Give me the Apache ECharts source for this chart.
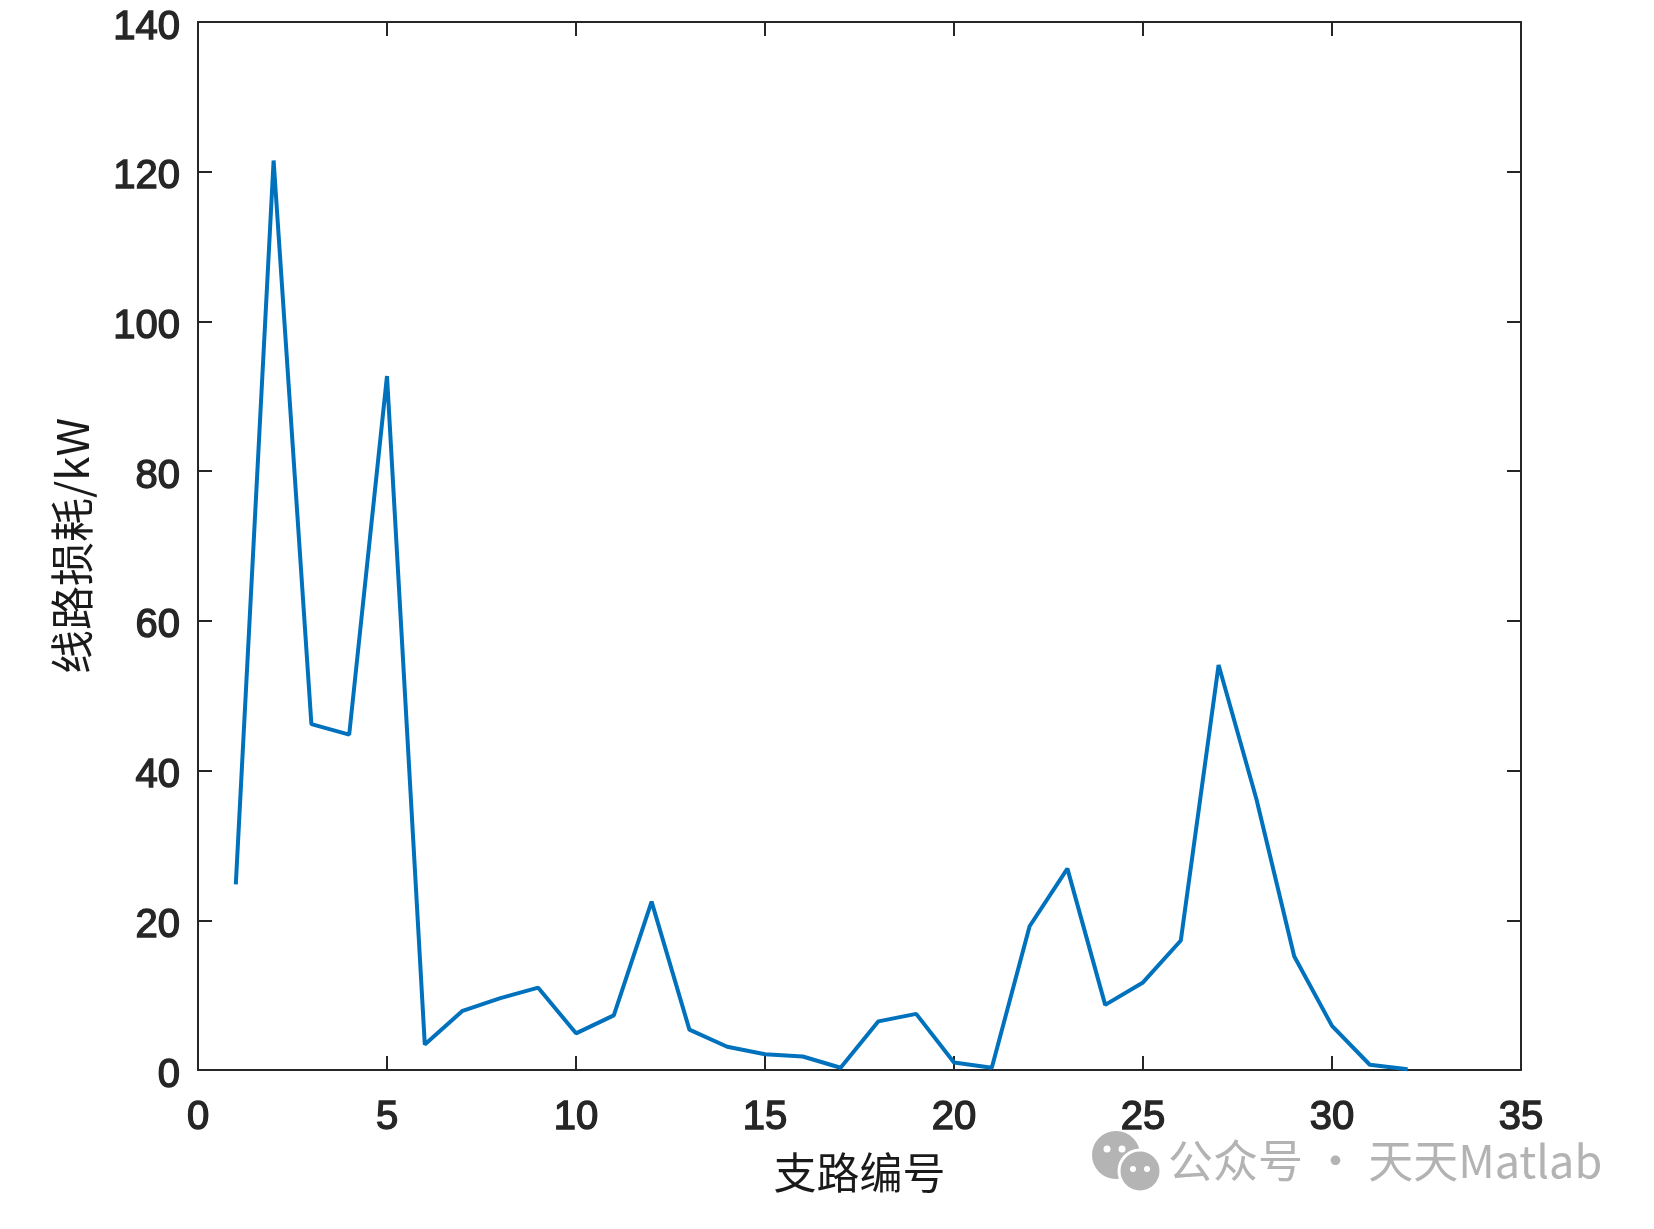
<!DOCTYPE html>
<html>
<head>
<meta charset="utf-8">
<title>线路损耗</title>
<script src="https://cdn.jsdelivr.net/npm/echarts@6/dist/echarts.min.js"></script>
<style>
  html, body { margin: 0; padding: 0; background: #fff; }
  #main { width: 1654px; height: 1229px; }
</style>
</head>
<body>
<div id="main"></div>
<script>
// 支路编号 与 各支路线路损耗(kW)
const branchNo = [1, 2, 3, 4, 5, 6, 7, 8, 9, 10, 11, 12, 13, 14, 15, 16,
  17, 18, 19, 20, 21, 22, 23, 24, 25, 26, 27, 28, 29, 30, 31, 32];
const lossKW = [24.8, 121.5, 46.2, 44.8, 92.7, 3.4, 7.9, 9.6, 11.0, 4.9, 7.3, 22.5,
  5.4, 3.1, 2.1, 1.8, 0.3, 6.5, 7.5, 1.0, 0.3, 19.2, 26.9, 8.7, 11.7, 17.3,
  54.1, 36.2, 15.2, 5.9, 0.7, 0.1];
const xTicks = [0, 35, 5];     // min, max, interval
const yTicks = [0, 140, 20];

const axisColor = "#262626";
const labelFont = "Liberation Sans";
const cjkFont = "Noto Sans CJK SC";

let chart = echarts.init(document.getElementById("main"));

// 刻度数字：常规字重加细描边，接近 MATLAB 的中等粗细
const tickText = {
  fontFamily: labelFont, fontSize: 40, color: axisColor,
  textBorderColor: axisColor, textBorderWidth: 1.4
};

// 坐标轴公共样式（刻度朝内，四边框）
function boxAxis(extra) {
  return Object.assign({
    type: "value",
    splitLine: { show: false },
    axisLine: { show: true, onZero: false, lineStyle: { color: axisColor, width: 2 } },
    axisTick: { show: true, inside: true, length: 14, lineStyle: { color: axisColor, width: 2 } }
  }, extra);
}

chart.setOption({
  backgroundColor: "#fff",
  animation: false,
  grid: { left: 198, right: 133, top: 22, bottom: 159 },
  xAxis: [
    boxAxis({
      min: xTicks[0], max: xTicks[1], interval: xTicks[2],
      name: "支路编号",
      nameLocation: "middle",
      nameGap: 81,
      nameTextStyle: { fontFamily: cjkFont, fontSize: 43, color: "#1a1a1a" },
      axisLabel: Object.assign({ margin: 28 }, tickText)
    }),
    boxAxis({
      position: "top",
      min: xTicks[0], max: xTicks[1], interval: xTicks[2],
      axisLabel: { show: false }
    })
  ],
  yAxis: [
    boxAxis({
      min: yTicks[0], max: yTicks[1], interval: yTicks[2],
      name: "线路损耗/kW",
      nameLocation: "middle",
      nameRotate: 90,
      nameGap: 104,
      nameTextStyle: { fontFamily: cjkFont, fontSize: 44, color: "#1a1a1a" },
      axisLabel: {
        margin: 18,
        formatter: "{v|{value}}",
        rich: { v: Object.assign({ padding: [11, 0, 0, 0] }, tickText) }
      }
    }),
    boxAxis({
      position: "right",
      min: yTicks[0], max: yTicks[1], interval: yTicks[2],
      axisLabel: { show: false }
    })
  ],
  series: [
    {
      type: "line",
      data: branchNo.map((b, i) => [b, lossKW[i]]),
      showSymbol: false,
      lineStyle: { color: "#0072BD", width: 4 },
      z: 1
    }
  ],
  // 公众号水印
  graphic: [
    { type: "circle", shape: { cx: 1116, cy: 1155, r: 24 }, style: { fill: "#b4b4b4" } },
    { type: "circle", shape: { cx: 1140, cy: 1171, r: 21 }, style: { fill: "#b4b4b4", stroke: "#fff", lineWidth: 3 } },
    { type: "circle", shape: { cx: 1107, cy: 1149, r: 3.5 }, style: { fill: "#fff" } },
    { type: "circle", shape: { cx: 1122, cy: 1149, r: 3.5 }, style: { fill: "#fff" } },
    { type: "circle", shape: { cx: 1133, cy: 1169, r: 3 }, style: { fill: "#fff" } },
    { type: "circle", shape: { cx: 1147, cy: 1169, r: 3 }, style: { fill: "#fff" } },
    {
      type: "text",
      left: 1168,
      top: 1138,
      style: {
        text: "公众号 · 天天Matlab",
        font: "45px 'Noto Sans CJK SC'",
        fill: "#b3b3b3"
      }
    }
  ]
});
</script>
</body>
</html>
